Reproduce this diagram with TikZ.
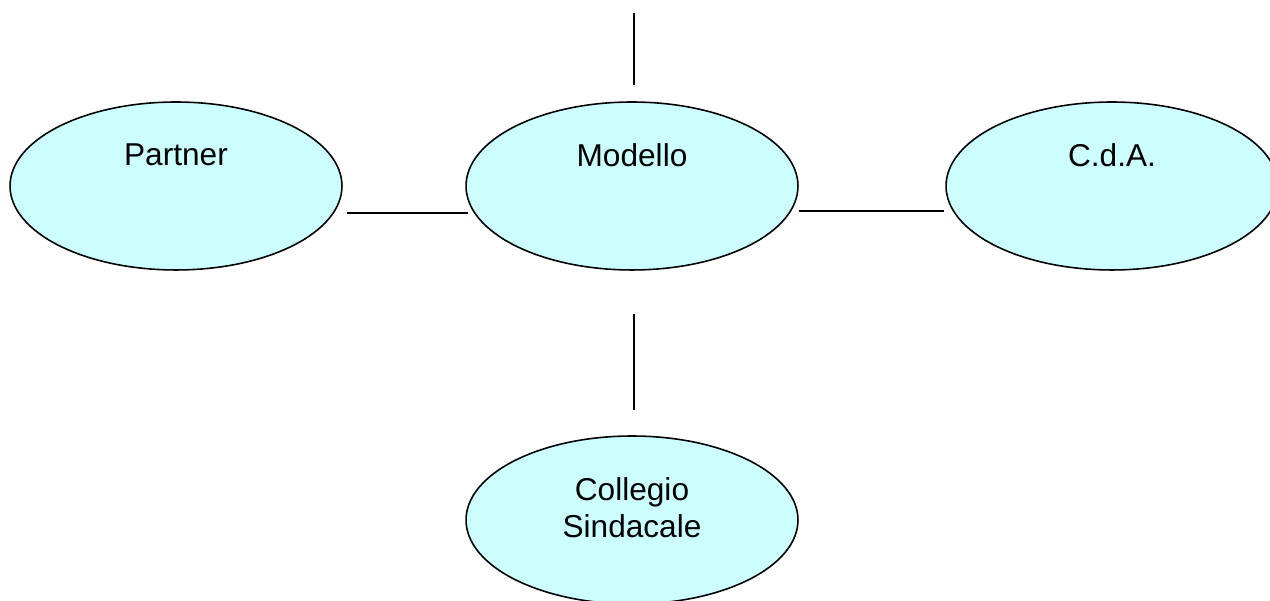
\documentclass[tikz,border=0pt]{standalone}
\usepackage{fontspec}
\setmainfont{Liberation Sans}
\usetikzlibrary{shapes.geometric}
\definecolor{celeste}{RGB}{204,255,255}

\begin{document}
\begin{tikzpicture}[x=0.02cm, y=0.02cm, font=\fontsize{18}{21}\selectfont, line join=round,
		organo/.style={ellipse, draw, line width=0.9pt, fill=celeste, minimum width=6.64cm, minimum height=3.36cm, inner sep=0pt},
		nome/.style={align=center, inner sep=0pt},
		link/.style={line width=0.7pt}]
	\useasboundingbox (0,0) rectangle (1270,601);
		\node[organo] (partner) at (176,415) {};
		\node[organo] (modello) at (632,415) {};
		\node[organo] (cda) at (1112,415) {};
		\node[organo] (collegio) at (632,81) {};
		\node[nome] (tpartner) at (176,446) {Partner};
		\node[nome] (tmodello) at (632,446) {Modello};
		\node[nome] (tcda) at (1112,446) {C.d.A.};
		\node[nome] (tcollegio) at (632,93) {Collegio\\Sindacale};
		% capi liberi dei collegamenti
		\coordinate (su1) at (634,588);
		\coordinate (su2) at (634,516);
		\coordinate (giu1) at (634,287);
		\coordinate (giu2) at (634,191);
		\coordinate (sx1) at (347,388);
		\coordinate (sx2) at (468,388);
		\coordinate (dx1) at (799,390);
		\coordinate (dx2) at (944,390);
		\draw[link] (su1)--(su2);
		\draw[link] (giu1)--(giu2);
		\draw[link] (sx1)--(sx2);
		\draw[link] (dx1)--(dx2);
	\end{tikzpicture}
\end{document}
